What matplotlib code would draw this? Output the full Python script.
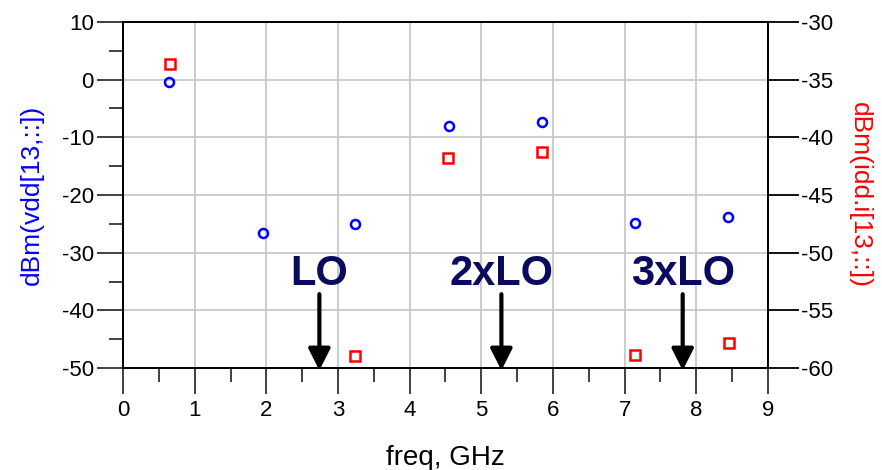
import matplotlib.pyplot as plt
from matplotlib.ticker import MultipleLocator

plt.rcParams['font.family'] = ['Liberation Sans', 'DejaVu Sans']
plt.rcParams['axes.unicode_minus'] = False

# harmonics seen on vdd (left axis, dBm) and idd.i (right axis, dBm)
freq_vdd = [0.64, 1.96, 3.24, 4.55, 5.84, 7.15, 8.44]
dbm_vdd = [-0.4, -26.6, -25.1, -8.0, -7.4, -24.8, -23.9]

freq_idd = [0.65, 3.24, 4.54, 5.85, 7.14, 8.45]
dbm_idd = [-33.6, -59.0, -41.8, -41.3, -58.85, -57.8]

marker_labels = ['LO', '2xLO', '3xLO']
marker_freqs = [2.74, 5.28, 7.81]

fig = plt.figure(figsize=(8.82, 4.70), dpi=100)
ax = fig.add_axes([0.1395, 0.217, 0.7312, 0.7362])
ax2 = ax.twinx()

ax.plot(freq_vdd, dbm_vdd, 'o', ms=6.5, mfc='none', mec='#0000ff', mew=1.8, zorder=3)
ax2.plot(freq_idd, dbm_idd, 's', ms=7.5, mfc='none', mec='#ff0000', mew=1.8, zorder=3)

ax.set_xlim(0, 9)
ax.set_ylim(-50, 10)
ax2.set_ylim(-60, -30)

ax.xaxis.set_major_locator(MultipleLocator(1))
ax.xaxis.set_minor_locator(MultipleLocator(0.5))
ax.yaxis.set_major_locator(MultipleLocator(10))
ax.yaxis.set_minor_locator(MultipleLocator(5))
ax2.yaxis.set_major_locator(MultipleLocator(5))

ax.grid(True, which='major', color='#c8c8c8', lw=1.3)
ax.set_axisbelow(True)

ax.tick_params(axis='both', which='major', direction='out', length=19, width=1.3,
               labelsize=16, colors='#333333', labelcolor='black')
ax.tick_params(axis='both', which='minor', direction='out', length=10, width=1.3,
               colors='#333333')
ax.tick_params(axis='y', pad=2)
ax.tick_params(axis='x', pad=4)
ax2.tick_params(axis='y', direction='out', length=22, width=1.3, labelsize=16, pad=2)

for a in (ax, ax2):
    for s in a.spines.values():
        s.set_linewidth(1.3)

ax.set_xlabel('freq, GHz', fontsize=20, labelpad=17)
ax.set_ylabel('dBm(vdd[13,::])', fontsize=19, color='#0000ff', labelpad=13)
ax2.set_ylabel('dBm(idd.i[13,::])', fontsize=19, color='#ff0000', rotation=270, labelpad=28)

# labels and arrows are in left-axis units, drawn on top of both axes
for lab, f in zip(marker_labels, marker_freqs):
    ax2.text(f, -35.6, lab, transform=ax.transData, fontsize=30, fontweight='bold',
             color='#0a0a5f', ha='center', va='baseline', zorder=4)
    ax2.annotate('', xy=(f, -50.4), xytext=(f, -37.2), xycoords=ax.transData,
                 textcoords=ax.transData, annotation_clip=False,
                 arrowprops=dict(arrowstyle='-|>,head_width=0.33,head_length=0.65',
                                 lw=3, color='black', mutation_scale=20,
                                 shrinkA=0, shrinkB=0), zorder=4)

plt.savefig('out.png', dpi=100)
